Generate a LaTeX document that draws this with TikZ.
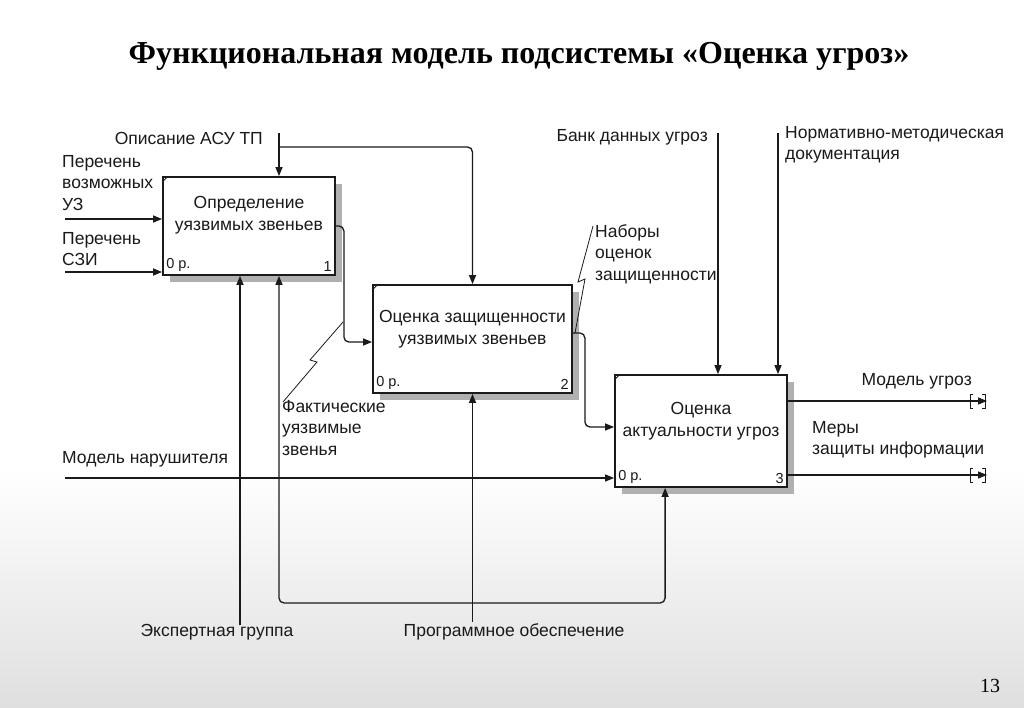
\documentclass[tikz,border=0pt]{standalone}
\usepackage{fontspec}
\setmainfont{Liberation Sans}
\newfontfamily\titlefont{Liberation Serif}
\usepackage{xcolor}
\usetikzlibrary{arrows.meta,positioning,calc,shadows}
\definecolor{ink}{HTML}{1A1A1A}
\definecolor{shade}{HTML}{B0B0B0}
\newcommand{\tunnelmark}[1]{%
  \draw[ink, line width=1pt] ([xshift=-14pt,yshift=7pt]#1) -- ++(-3pt,0) -- ++(0,-14pt) -- ++(3pt,0)
    ([xshift=-5pt,yshift=7pt]#1) -- ++(3pt,0) -- ++(0,-14pt) -- ++(-3pt,0);}

\begin{document}
\begin{tikzpicture}[x=1pt,y=-1pt,
    fnbox/.style={draw=ink, line width=1.8pt, fill=white, inner sep=0pt,
      drop shadow={shadow xshift=7pt, shadow yshift=-7pt, fill=shade, draw=none, opacity=1}},
    boxtxt/.style={font=\fontsize{17.5}{22}\selectfont, align=center, text=ink},
    lbl/.style={font=\fontsize{17.5}{21.5}\selectfont, align=left, text=ink, inner sep=0pt},
    tag/.style={font=\fontsize{14.5}{16}\selectfont, text=ink, inner sep=0pt},
    arr/.style={draw=ink, line width=1.3pt, rounded corners=5pt, -{Triangle[length=9pt,width=7pt]}},
    zig/.style={draw=ink, line width=0.8pt}]
  \fill[white] (0,0) rectangle (1024,708);
  \shade[top color=white, bottom color=gray!25] (0,470) rectangle (1024,708);
  \useasboundingbox (0,0) rectangle (1024,708);

  \node[font=\titlefont\bfseries\fontsize{32}{38}\selectfont, text=black] (title) at (519,56)
    {Функциональная модель подсистемы «Оценка угроз»};

  % functional blocks
  \node[fnbox, minimum width=172pt, minimum height=98pt] (b1) at (249,226) {};
  \node[fnbox, minimum width=199pt, minimum height=108pt] (b2) at (472.5,339) {};
  \node[fnbox, minimum width=172pt, minimum height=112pt] (b3) at (701,431) {};
  \node[boxtxt] (b1txt) at ([yshift=11pt]b1.center) {Определение\\уязвимых звеньев};
  \node[boxtxt] (b2txt) at ([yshift=10pt]b2.center) {Оценка защищенности\\уязвимых звеньев};
  \node[boxtxt] (b3txt) at ([yshift=10pt]b3.center) {Оценка\\актуальности угроз};
  \foreach \b/\n in {b1/1,b2/2,b3/3} {
    \node[tag, anchor=south west] (\b-p) at ([shift={(4pt,4pt)}]\b.south west) {0 р.};
    \node[tag, anchor=south east] (\b-n) at ([shift={(-4pt,4pt)}]\b.south east) {\n};
    \draw[ink, line width=0.8pt] ([yshift=-6pt]\b.north west) -- ([xshift=6pt]\b.north west);
  }

  % controls
  \coordinate (ctl1) at (279,133);
  \coordinate (ctl1b) at (279,147);
  \coordinate (ctl2) at (718,133);
  \coordinate (ctl3) at (778,133);
  \node[lbl, anchor=east] (opis) at (263,138) {Описание АСУ ТП};
  \node[lbl, anchor=east] (bank) at (708,137) {Банк данных угроз};
  \node[lbl, anchor=west] (norm) at (785,145) {Нормативно-методическая\\документация};
  \draw[arr] (ctl1) -- (ctl1 |- b1.north);
  \draw[arr] (ctl1b) -| (b2.north);
  \draw[arr] (ctl2) -- (ctl2 |- b3.north);
  \draw[arr] (ctl3) -- (ctl3 |- b3.north);

  % inputs
  \coordinate (in1) at (65,219);
  \coordinate (in2) at (65,272);
  \coordinate (in3) at (65,478);
  \node[lbl, anchor=west] (perUZ) at (62,183) {Перечень\\возможных\\УЗ};
  \node[lbl, anchor=west] (perSZI) at (62,249) {Перечень\\СЗИ};
  \node[lbl, anchor=west] (narush) at (62,459) {Модель нарушителя};
  \draw[arr] (in1) -- (in1 -| b1.west);
  \draw[arr] (in2) -- (in2 -| b1.west);
  \draw[arr] (in3) -- (in3 -| b3.west);

  % links between blocks
  \draw[arr] (b1.east) -- ++(8,0) |- ([yshift=-3pt]b2.west);
  \draw[arr] ([yshift=6pt]b2.east) -- ++(12,0) |- ([yshift=4pt]b3.west);
  \node[lbl, anchor=west] (fakt) at (282,428) {Фактические\\уязвимые\\звенья};
  \node[lbl, anchor=west] (nabor) at (595,254) {Наборы\\оценок\\защищенности};
  \draw[zig] (283,402) -- ++(34,-40) -- ++(-7,-2) -- ++(33,-38);
  \draw[zig] (593,226) -- ++(-15,56) -- ++(7,-3) -- ++(-10,54);

  % outputs
  \coordinate (out1) at (987,401);
  \coordinate (out2) at (987,475);
  \node[lbl, anchor=east] (mugroz) at (972,381) {Модель угроз};
  \node[lbl, anchor=west] (mery) at (812,440) {Меры\\защиты информации};
  \draw[arr] (out1 -| b3.east) -- (out1);
  \draw[arr] (out2 -| b3.east) -- (out2);
  \tunnelmark{out1}
  \tunnelmark{out2}

  % mechanisms
  \coordinate (mech1) at (240,625);
  \coordinate (mech2) at (472.5,622);
  \coordinate (split) at (472.5,603);
  \node[lbl] (expert) at (217,632) {Экспертная группа};
  \node[lbl] (progr) at (514,632) {Программное обеспечение};
  \draw[arr] (mech1) -- (mech1 |- b1.south);
  \draw[arr] (mech2) -- (b2.south);
  \draw[arr] (split) -| (ctl1 |- b1.south);
  \draw[arr] (split) -| ([xshift=51pt]b3.south west);

  \node[font=\titlefont\fontsize{20}{24}\selectfont] (pnum) at (990,686) {13};
\end{tikzpicture}
\end{document}
